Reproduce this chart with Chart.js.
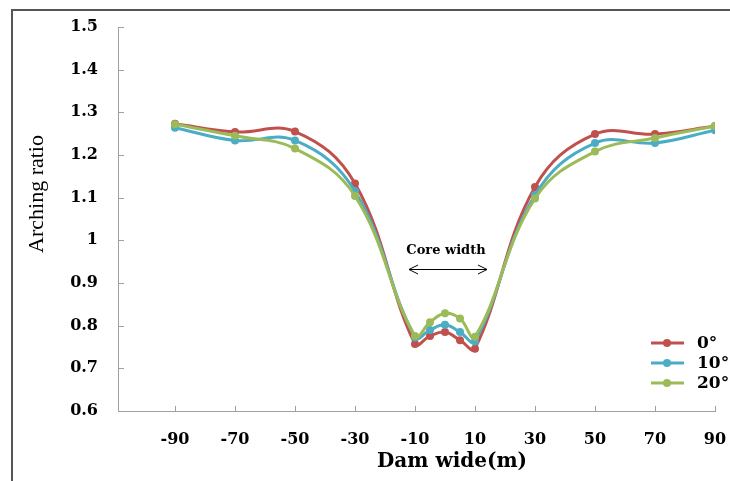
<!DOCTYPE html>
<html lang="en">
<head>
  <meta charset="UTF-8">
  <title>Arching ratio</title>
  <script src="https://cdn.jsdelivr.net/npm/chart.js@4.4.0/dist/chart.umd.min.js"></script>
  <style>
    body { margin: 0; background: #fff; }
  </style>
</head>
<body>
  <canvas id="myChart" width="730" height="481"></canvas>

  <script>
    // data
    const xValues = [-90, -70, -50, -30, -10, -5, 0, 5, 10, 30, 50, 70, 90];
    const ratio0 = [1.273, 1.254, 1.255, 1.133, 0.757, 0.776, 0.785, 0.766, 0.746, 1.125, 1.249, 1.249, 1.268];
    const ratio10 = [1.264, 1.234, 1.234, 1.115, 0.772, 0.790, 0.802, 0.785, 0.763, 1.106, 1.228, 1.228, 1.258];
    const ratio20 = [1.272, 1.245, 1.215, 1.104, 0.776, 0.808, 0.829, 0.817, 0.774, 1.098, 1.208, 1.240, 1.268];
    const xTicks = [-90, -70, -50, -30, -10, 10, 30, 50, 70, 90];
    const yTicks = [0.6, 0.7, 0.8, 0.9, 1.0, 1.1, 1.2, 1.3, 1.4, 1.5];
    const seriesNames = ['0°', '10°', '20°'];
    const colors = ['#C0504D', '#4BACC6', '#9BBB59'];

    const tickFont = { family: 'DejaVu Serif', size: 16, weight: 'bold' };
    const axisGray = '#a0a0a0';

    function toPoints(vals) {
      return xValues.map((x, i) => ({ x: x, y: vals[i] }));
    }

    const extras = {
      id: 'extras',
      beforeDraw(chart) {
        const ctx = chart.ctx;
        ctx.save();
        ctx.fillStyle = '#fff';
        ctx.fillRect(0, 0, chart.width, chart.height);
        // frame of the figure
        ctx.strokeStyle = '#555';
        ctx.lineWidth = 2;
        ctx.beginPath();
        ctx.moveTo(730, 10);
        ctx.lineTo(12, 10);
        ctx.lineTo(12, 481);
        ctx.stroke();
        ctx.restore();
      },
      afterDraw(chart) {
        const ctx = chart.ctx;
        const xs = chart.scales.x, ys = chart.scales.y;
        const area = chart.chartArea;
        ctx.save();

        // inner tick marks
        ctx.strokeStyle = axisGray;
        ctx.lineWidth = 1;
        ctx.beginPath();
        xTicks.forEach(v => {
          const px = Math.round(xs.getPixelForValue(v)) + 0.5;
          ctx.moveTo(px, area.bottom);
          ctx.lineTo(px, area.bottom - 5);
        });
        yTicks.forEach(v => {
          const py = Math.round(ys.getPixelForValue(v)) + 0.5;
          ctx.moveTo(area.left, py);
          ctx.lineTo(area.left + 6, py);
        });
        ctx.stroke();

        // axis titles
        ctx.fillStyle = '#000';
        ctx.textAlign = 'center';
        ctx.textBaseline = 'middle';
        ctx.font = 'bold 20px "DejaVu Serif"';
        ctx.fillText('Dam wide(m)', 452, 462);

        ctx.save();
        ctx.translate(37, 194);
        ctx.rotate(-Math.PI / 2);
        ctx.font = '22px "Liberation Serif"';
        ctx.fillText('Arching ratio', 0, 0);
        ctx.restore();

        // core width annotation
        ctx.font = 'bold 13px "DejaVu Serif"';
        ctx.fillText('Core width', 446, 251);
        ctx.strokeStyle = '#000';
        ctx.lineWidth = 1;
        ctx.beginPath();
        ctx.moveTo(409, 269.5);
        ctx.lineTo(487, 269.5);
        ctx.moveTo(418, 265);
        ctx.lineTo(409, 269.5);
        ctx.lineTo(418, 274);
        ctx.moveTo(478, 265);
        ctx.lineTo(487, 269.5);
        ctx.lineTo(478, 274);
        ctx.stroke();

        // legend
        ctx.textAlign = 'left';
        ctx.font = 'bold 17px "DejaVu Serif"';
        seriesNames.forEach((name, i) => {
          const y = 343 + i * 20;
          ctx.strokeStyle = colors[i];
          ctx.lineWidth = 3;
          ctx.beginPath();
          ctx.moveTo(651, y);
          ctx.lineTo(684, y);
          ctx.stroke();
          ctx.fillStyle = colors[i];
          ctx.beginPath();
          ctx.arc(667, y, 4, 0, Math.PI * 2);
          ctx.fill();
          ctx.fillStyle = '#000';
          ctx.fillText(name, 697, y + 1);
        });

        ctx.restore();
      }
    };

    new Chart('myChart', {
      type: 'line',
      data: {
        datasets: [ratio0, ratio10, ratio20].map((vals, i) => ({
          label: seriesNames[i],
          data: toPoints(vals),
          borderColor: colors[i],
          backgroundColor: colors[i],
          borderWidth: 3,
          pointRadius: 4,
          pointBorderWidth: 0,
          tension: 0.4
        })).reverse()
      },
      options: {
        responsive: false,
        animation: false,
        layout: { padding: { top: 27, right: 15, left: 0, bottom: 0 } },
        plugins: {
          legend: { display: false },
          tooltip: { enabled: false }
        },
        scales: {
          x: {
            type: 'linear',
            min: -109,
            max: 90,
            afterBuildTicks: axis => { axis.ticks = xTicks.map(v => ({ value: v })); },
            afterFit: s => { s.height = 70; s.paddingLeft = 0; s.paddingRight = 0; },
            grid: { display: false },
            border: { color: axisGray, width: 1 },
            ticks: { font: tickFont, color: '#000', padding: 11, maxRotation: 0 }
          },
          y: {
            min: 0.6,
            max: 1.5,
            afterBuildTicks: axis => { axis.ticks = yTicks.map(v => ({ value: v })); },
            afterFit: s => { s.width = 118; s.paddingTop = 0; s.paddingBottom = 0; },
            grid: { display: false },
            border: { color: axisGray, width: 1 },
            ticks: {
              font: tickFont,
              color: '#000',
              padding: 12,
              callback: v => (v === 1 ? '1' : v.toFixed(1))
            }
          }
        }
      },
      plugins: [extras]
    });
  </script>
</body>
</html>
